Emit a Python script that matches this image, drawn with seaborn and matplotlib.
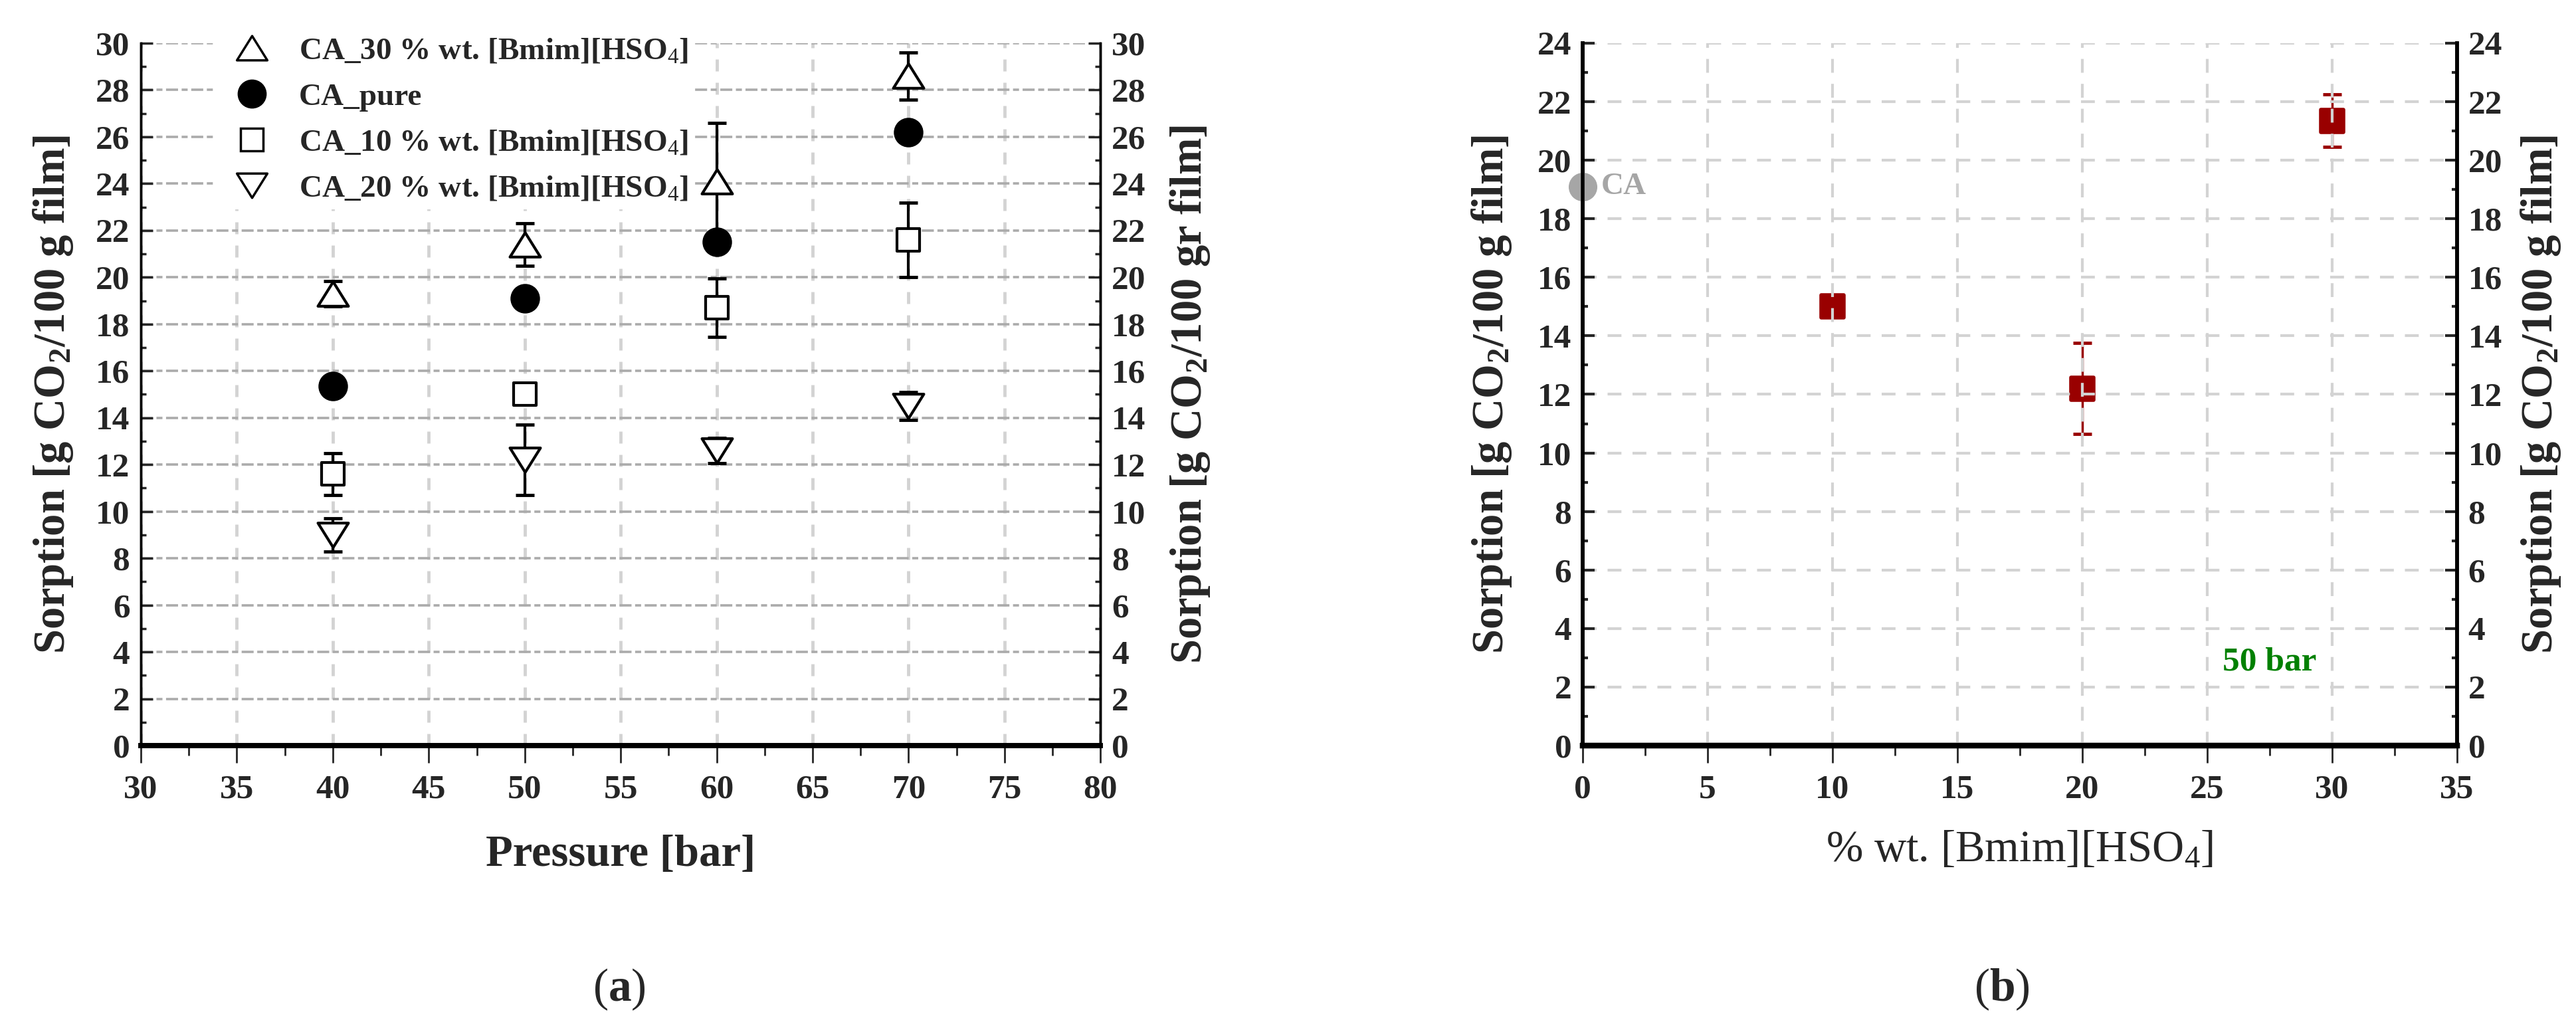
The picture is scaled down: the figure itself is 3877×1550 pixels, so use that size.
import matplotlib
matplotlib.use("Agg")
import matplotlib.pyplot as plt
import seaborn as sns
import pandas as pd
from matplotlib.lines import Line2D
from matplotlib.markers import MarkerStyle
from matplotlib.path import Path
from matplotlib.ticker import MultipleLocator

# panel (a): sorption vs pressure
pressure = [40, 50, 60, 70]
ca30 = [19.3, 21.4, 24.1, 28.6]
ca30_err = [0.55, 0.9, 2.5, 1.0]
ca_pure = [15.35, 19.1, 21.5, 26.2]
ca10 = [11.6, 15.0, 18.7, 21.6]
ca10_err = [0.9, 0.0, 1.25, 1.6]
ca20 = [9.0, 12.2, 12.6, 14.5]
ca20_err = [0.7, 1.5, 0.55, 0.6]

# panel (b): sorption at 50 bar vs IL loading
il_wt = [10, 20, 30]
sorp_50 = [15.0, 12.2, 21.35]
sorp_50_err = [0.3, 1.55, 0.9]
ca_ref = 19.1

labels_a = ["CA_30 % wt. [Bmim][HSO$_4$]", "CA_pure",
            "CA_10 % wt. [Bmim][HSO$_4$]", "CA_20 % wt. [Bmim][HSO$_4$]"]

sns.set_theme(style="white")
plt.rcParams["font.family"] = ["Liberation Serif", "DejaVu Serif"]
plt.rcParams["mathtext.fontset"] = "custom"
plt.rcParams["mathtext.rm"] = "Liberation Serif"
plt.rcParams["mathtext.bf"] = "Liberation Serif:bold"
plt.rcParams["mathtext.it"] = "Liberation Serif:italic"

# flattened triangles like the original software draws them
tri_up = Path([(0, 0.8), (-1, -0.8), (1, -0.8), (0, 0.8)], closed=True)
tri_down = Path([(0, -0.8), (-1, 0.8), (1, 0.8), (0, -0.8)], closed=True)

fig = plt.figure(figsize=(38.77, 15.5), dpi=100)
ax = fig.add_axes([0.0547, 0.2761, 0.3725, 0.682])
bx = fig.add_axes([0.6144, 0.2761, 0.3394, 0.682])

TICK_FS = 37
LAB_FS = 48

# ---------- panel (a) ----------
series = [
    (ca30, ca30_err, tri_up, 33, "white"),
    (ca_pure, None, "o", 29, "black"),
    (ca10, ca10_err, "s", 24, "white"),
    (ca20, ca20_err, tri_down, 33, "white"),
]
handles = []
for (vals, err, mk, ms, fc), lab in zip(series, labels_a):
    if err is not None:
        ax.errorbar(pressure, vals, yerr=err, fmt="none", ecolor="black",
                    elinewidth=3, capsize=10, capthick=3.5, zorder=2)
    df = pd.DataFrame({"p": pressure, "s": vals})
    sns.scatterplot(data=df, x="p", y="s", marker=mk, s=ms ** 2, color=fc,
                    edgecolor="black", linewidth=3, ax=ax, legend=False)
    ax.collections[-1].set_zorder(4)
    handles.append(Line2D([], [], linestyle="none", marker=mk, markersize=ms,
                          markerfacecolor=fc, markeredgecolor="black",
                          markeredgewidth=2.5, label=lab))

ax.set_xlim(30, 80)
ax.set_ylim(0, 30)
ax.xaxis.set_major_locator(MultipleLocator(5))
ax.xaxis.set_minor_locator(MultipleLocator(2.5))
ax.yaxis.set_major_locator(MultipleLocator(2))
ax.yaxis.set_minor_locator(MultipleLocator(1))
ax.yaxis.grid(True, color="#ababab", linestyle=(0, (5, 1.5, 2.5, 1.5)), linewidth=2.6)
ax.xaxis.grid(True, color="#d3d3d3", linestyle=(0, (3.7, 3.5)), linewidth=3.5)
ax.set_axisbelow(True)

ax2 = ax.twinx()
ax2.set_ylim(0, 30)
ax2.yaxis.set_major_locator(MultipleLocator(2))
ax2.yaxis.set_minor_locator(MultipleLocator(1))

for a in (ax, ax2):
    a.spines["top"].set_visible(False)
    a.spines["left"].set_linewidth(2.5)
    a.spines["right"].set_linewidth(2.5)
    a.spines["bottom"].set_linewidth(5.5)
    for sp in a.spines.values():
        sp.set_color("black")
ax.tick_params(axis="y", which="major", direction="in", length=13, width=2.5,
               pad=12, labelsize=TICK_FS)
ax.tick_params(axis="y", which="minor", direction="in", length=6, width=2.5, left=True)
ax.tick_params(axis="x", which="major", direction="out", length=19, width=2,
               pad=12, labelsize=TICK_FS, bottom=True)
ax.tick_params(axis="x", which="minor", direction="out", length=11, width=2, bottom=True)
ax2.tick_params(axis="y", which="major", direction="in", length=13, width=2.5,
                pad=12, labelsize=TICK_FS)
ax2.tick_params(axis="y", which="minor", direction="in", length=6, width=2.5, right=True)
for t in ax.get_xticklabels() + ax.get_yticklabels() + ax2.get_yticklabels():
    t.set_fontweight("bold")

ax.set_xlabel("Pressure [bar]", fontsize=LAB_FS, fontweight="bold", labelpad=32)
ax.set_ylabel(r"Sorption [g CO$_\mathbf{2}$/100 g film]", fontsize=LAB_FS,
              fontweight="bold", labelpad=22)
ax2.set_ylabel(r"Sorption [g CO$_\mathbf{2}$/100 gr film]", fontsize=LAB_FS,
               fontweight="bold", labelpad=24)

leg = ax2.legend(handles=handles, loc="upper left", bbox_to_anchor=(0.06, 1.04),
                 frameon=True, facecolor="white", edgecolor="none", framealpha=1,
                 prop={"family": "Liberation Serif", "weight": "bold", "size": 34},
                 labelspacing=0.55, handletextpad=0.5, borderpad=0.2)

# ---------- panel (b) ----------
bx.errorbar(il_wt, sorp_50, yerr=sorp_50_err, fmt="none", ecolor="#990000",
            elinewidth=2.5, capsize=10, capthick=3.5, zorder=1.5)
df_b = pd.DataFrame({"wt": il_wt, "s": sorp_50})
sns.scatterplot(data=df_b, x="wt", y="s", marker=MarkerStyle("s", joinstyle="round"),
                s=25 ** 2, color="#990000", edgecolor="#990000", linewidth=4,
                ax=bx, legend=False)
bx.collections[-1].set_zorder(2)
bx.scatter([0], [ca_ref], marker="o", s=31 ** 2, color="#a6a6a6",
           linewidths=0, zorder=5, clip_on=False)
bx.text(0.75, ca_ref, "CA", color="#a6a6a6", fontsize=34, fontweight="bold",
        va="center", ha="left")
bx.text(27.5, 2.85, "50 bar", color="#008000", fontsize=37, fontweight="bold",
        va="center", ha="center")

bx.set_xlim(0, 35)
bx.set_ylim(0, 24)
bx.xaxis.set_major_locator(MultipleLocator(5))
bx.xaxis.set_minor_locator(MultipleLocator(2.5))
bx.yaxis.set_major_locator(MultipleLocator(2))
bx.yaxis.set_minor_locator(MultipleLocator(1))
bx.grid(True, which="major", color="#d3d3d3", linestyle=(0, (5, 4)), linewidth=3)
bx.set_axisbelow(False)

bx2 = bx.twinx()
bx2.set_ylim(0, 24)
bx2.yaxis.set_major_locator(MultipleLocator(2))
bx2.yaxis.set_minor_locator(MultipleLocator(1))
for a in (bx, bx2):
    a.spines["top"].set_visible(False)
    a.spines["left"].set_linewidth(4)
    a.spines["right"].set_linewidth(4)
    a.spines["bottom"].set_linewidth(6)
    for sp in a.spines.values():
        sp.set_color("black")
bx.tick_params(axis="y", which="major", direction="in", length=13, width=3,
               pad=12, labelsize=TICK_FS)
bx.tick_params(axis="y", which="minor", direction="in", length=6, width=3, left=True)
bx.tick_params(axis="x", which="major", direction="out", length=19, width=2,
               pad=12, labelsize=TICK_FS, bottom=True)
bx.tick_params(axis="x", which="minor", direction="out", length=11, width=2, bottom=True)
bx2.tick_params(axis="y", which="major", direction="in", length=13, width=3,
                pad=12, labelsize=TICK_FS)
bx2.tick_params(axis="y", which="minor", direction="in", length=6, width=3, right=True)
for t in bx.get_xticklabels() + bx.get_yticklabels() + bx2.get_yticklabels():
    t.set_fontweight("bold")

bx.set_xlabel("% wt. [Bmim][HSO$_4$]", fontsize=LAB_FS, labelpad=28)
bx.set_ylabel(r"Sorption [g CO$_\mathbf{2}$/100 g film]", fontsize=LAB_FS,
              fontweight="bold", labelpad=26)
bx2.set_ylabel(r"Sorption [g CO$_\mathbf{2}$/100 g film]", fontsize=LAB_FS,
               fontweight="bold", labelpad=18)

fig.text(0.2405, 0.039, r"($\mathbf{a}$)", fontsize=50, ha="center", va="center")
fig.text(0.777, 0.039, r"($\mathbf{b}$)", fontsize=50, ha="center", va="center")

fig.savefig("out.png", dpi=100)
